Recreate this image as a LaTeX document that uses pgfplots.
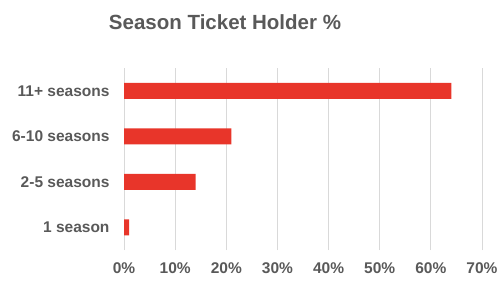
\documentclass[border=0pt]{standalone}
\usepackage{pgfplots}
\pgfplotsset{compat=1.18}
\usepackage{fontspec}
\setmainfont{Liberation Sans}
\definecolor{txt}{HTML}{595959}
\definecolor{barred}{HTML}{E8352A}
\definecolor{gridc}{HTML}{D9D9D9}
\begin{document}
\begin{tikzpicture}[x=1bp,y=1bp]
\path[use as bounding box] (0,0) rectangle (500,294);
\node[text=txt,font=\fontsize{20.5bp}{22bp}\selectfont\bfseries] at (225,272) {Season Ticket Holder \%};
\begin{axis}[
  at={(124bp,44bp)}, anchor=south west,
  scale only axis, width=358bp, height=182bp,
  xbar, bar width=16bp,
  xmin=0, xmax=70, ymin=-0.5, ymax=3.5,
  axis line style={draw=none},
  xmajorgrids, grid style={gridc, line width=0.8pt},
  major tick length=0pt,
  xtick={0,10,...,70},
  xticklabel={\pgfmathprintnumber{\tick}\%},
  ytick={0,1,2,3},
  yticklabels={1 season,2-5 seasons,6-10 seasons,11+ seasons},
  ticklabel style={text=txt,font=\fontsize{15.5bp}{17bp}\selectfont\bfseries},
  /pgf/number format/assume math mode=true,
  xticklabel style={yshift=-9bp},
  yticklabel style={xshift=-11bp},
]
\addplot[fill=barred, draw=none] coordinates {(1,0) (14,1) (21,2) (64,3)};
\end{axis}
\end{tikzpicture}
\end{document}
